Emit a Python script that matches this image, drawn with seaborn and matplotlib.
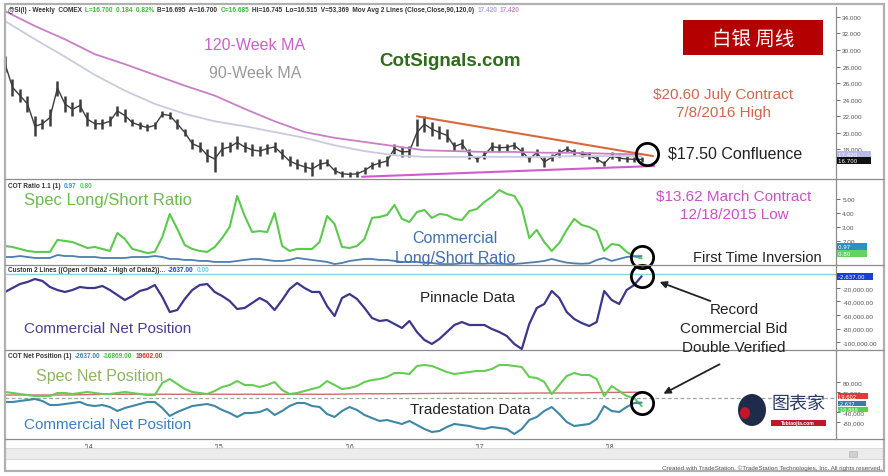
import numpy as np
import pandas as pd
import matplotlib
matplotlib.use("Agg")
import matplotlib.pyplot as plt
import matplotlib.dates as mdates
import matplotlib.ticker as mticker
from matplotlib.patches import Rectangle, FancyArrowPatch, Ellipse
from matplotlib.lines import Line2D
import seaborn as sns

# ---------------- data ----------------
start_date = "2013-05-10"      # first weekly bar shown
bar_step_days = 21             # one sample every 3 weeks

price_high = [29.3, 26.5, 25.3, 24.5, 22.0, 21.7, 22.9, 26.3, 24.5, 23.7,
              24.1, 22.5, 21.7, 21.7, 22.0, 23.3, 22.9, 21.7, 21.3, 21.1,
              21.3, 22.6, 22.5, 21.7, 20.5, 19.3, 18.9, 18.1, 18.4, 18.9,
              18.9, 19.6, 18.9, 18.7, 18.4, 18.7, 18.9, 18.1, 17.2, 16.8,
              16.5, 16.5, 16.8, 16.8, 15.9, 15.4, 15.3, 15.4, 15.9, 16.5,
              16.8, 17.2, 18.7, 18.3, 18.4, 21.7, 22.0, 21.3, 20.8, 20.5,
              18.9, 19.3, 18.1, 17.2, 17.8, 18.9, 18.7, 18.7, 18.9, 18.3,
              17.2, 18.1, 17.1, 17.5, 18.1, 18.4, 18.1, 17.8, 17.7, 17.2,
              16.6, 17.7, 17.3, 17.2, 17.1, 17.1]
price_low = [27.4, 24.5, 23.7, 22.5, 19.6, 20.5, 20.8, 24.5, 22.5, 22.0,
             22.5, 20.8, 20.5, 20.5, 20.8, 22.0, 21.3, 20.8, 20.5, 20.2,
             20.5, 21.9, 21.7, 20.5, 19.6, 18.1, 17.7, 16.5, 15.3, 17.2,
             17.7, 18.1, 17.7, 17.2, 17.2, 17.5, 17.7, 16.8, 16.0, 15.6,
             15.3, 14.8, 15.6, 16.0, 15.0, 14.7, 14.7, 14.7, 15.0, 15.6,
             15.9, 16.0, 17.5, 17.1, 17.1, 18.4, 20.1, 19.6, 19.3, 18.9,
             17.8, 18.1, 16.8, 16.5, 16.8, 17.8, 17.7, 17.8, 18.1, 17.2,
             16.5, 17.1, 15.9, 16.6, 17.1, 17.7, 17.2, 17.1, 16.8, 16.5,
             16.0, 16.8, 16.6, 16.5, 16.5, 16.5]
last_price = 16.700
ma_label_value = 17.420

# moving averages and the red net line, sampled every 12 weeks + last bar
ma120 = [34.7, 32.9, 31.3, 29.5, 28.3, 27.0, 25.7, 24.5, 22.9, 21.4, 20.1, 19.4,
         18.9, 18.4, 17.9, 17.8, 17.7, 17.7, 17.6, 17.6, 17.5, 17.4, 17.4]
ma90 = [33.5, 31.3, 29.2, 27.0, 25.1, 23.5, 22.3, 21.4, 20.8, 20.1, 19.4, 18.5,
        17.8, 17.3, 17.1, 17.1, 17.1, 17.1, 17.1, 17.2, 17.2, 17.2, 17.2]
other_net_k = [28, 28, 28, 30, 31, 31, 31, 31, 31, 31, 31, 31,
               33, 33, 34, 35, 35, 35, 36, 36, 38, 39, 39]
other_net_last = 19602
net_ref_line_k = 18.0

# trendlines
resist_dates = ["2016-07-08", "2018-05-01"]
resist_prices = [22.0, 17.2]
support_dates = ["2016-02-05", "2018-05-04"]
support_prices = [14.7, 16.0]
confluence_price = 17.50

spec_ratio = [1.68, 1.61, 1.47, 1.33, 1.26, 1.26, 1.26, 2.11, 2.04, 1.96,
              1.75, 1.54, 1.61, 1.47, 1.33, 2.60, 2.18, 1.47, 1.33, 1.18,
              1.26, 2.32, 3.95, 2.89, 1.75, 1.47, 1.33, 1.26, 1.61, 2.25,
              3.03, 5.23, 3.81, 2.67, 2.74, 2.67, 4.02, 1.68, 1.33, 1.47,
              1.47, 1.47, 1.96, 3.81, 3.24, 1.61, 1.54, 1.68, 2.18, 3.67,
              3.74, 3.88, 4.59, 3.60, 3.38, 4.09, 4.23, 3.67, 3.95, 3.88,
              3.60, 3.52, 4.16, 4.30, 4.80, 5.16, 5.65, 5.37, 5.23, 4.38,
              2.25, 2.82, 1.96, 1.33, 1.89, 2.82, 3.60, 3.17, 3.03, 2.74,
              1.33, 1.82, 1.75, 1.26, 0.95, 0.80]
comm_ratio = [0.90, 0.90, 0.97, 0.90, 0.83, 0.83, 0.83, 1.04, 0.97, 0.97,
              0.90, 0.90, 0.90, 0.83, 0.83, 0.83, 0.83, 0.90, 0.90, 0.90,
              0.97, 0.90, 0.76, 0.76, 0.69, 0.69, 0.62, 0.62, 0.55, 0.55,
              0.55, 0.62, 0.69, 0.76, 0.76, 0.69, 0.62, 0.62, 0.69, 0.83,
              0.76, 0.69, 0.62, 0.55, 0.40, 0.48, 0.62, 0.69, 0.76, 0.76,
              0.69, 0.69, 0.62, 0.55, 0.55, 0.55, 0.48, 0.48, 0.40, 0.40,
              0.40, 0.45, 0.45, 0.42, 0.42, 0.45, 0.42, 0.40, 0.40, 0.45,
              0.50, 0.55, 0.62, 0.76, 0.62, 0.50, 0.45, 0.42, 0.45, 0.69,
              0.83, 0.62, 0.76, 0.90, 0.95, 0.97]

comm_net_pinnacle_k = [-25.9, -20.0, -14.1, -11.1, -6.7, -9.6, -18.5, -23.0, -25.9, -23.0,
                       -18.5, -20.0, -20.0, -17.0, -23.0, -30.4, -37.8, -31.9, -24.4, -21.5,
                       -15.6, -33.3, -55.6, -52.6, -36.3, -23.0, -15.6, -14.1, -25.9, -31.9,
                       -39.3, -51.1, -49.6, -42.2, -34.8, -40.7, -52.6, -37.8, -21.5, -12.6,
                       -20.0, -25.9, -25.9, -46.7, -61.5, -34.8, -28.9, -36.3, -49.6, -64.4,
                       -68.9, -67.4, -73.3, -79.2, -68.9, -85.2, -97.0, -102.9, -95.5, -85.2,
                       -74.8, -70.4, -74.8, -74.8, -74.8, -80.7, -85.2, -91.1, -102.9, -110.4,
                       -73.3, -49.6, -43.7, -24.4, -34.8, -55.6, -65.9, -71.9, -76.3, -70.4,
                       -24.4, -37.8, -43.7, -23.0, -15.6, -2.637]

spec_net_k = [40, 36, 32, 28, 24, 24, 24, 36, 36, 32,
              36, 40, 36, 32, 32, 36, 40, 36, 32, 28,
              28, 76, 92, 72, 52, 40, 36, 32, 44, 60,
              68, 84, 68, 68, 60, 68, 80, 48, 32, 36,
              44, 52, 60, 84, 68, 52, 56, 64, 80, 88,
              92, 100, 116, 116, 112, 144, 148, 144, 132, 120,
              112, 116, 120, 124, 124, 132, 148, 148, 144, 140,
              100, 96, 80, 32, 68, 104, 116, 108, 108, 92,
              24, 64, 44, 24, 16, -16.869]
comm_net_ts_k = [0, 0, 4, 8, 12, 4, -12, -12, -8, -4,
                 0, -12, -16, -12, -20, -36, -24, -16, -8, 0,
                 0, -24, -56, -40, -28, -16, -12, -8, -16, -32,
                 -44, -60, -44, -44, -40, -28, -52, -36, -16, -4,
                 -4, -16, -20, -48, -60, -36, -20, -32, -52, -64,
                 -76, -72, -80, -88, -76, -92, -108, -120, -116, -100,
                 -88, -92, -96, -104, -108, -100, -104, -108, -128, -108,
                 -72, -60, -36, -20, -48, -80, -96, -92, -88, -68,
                 -16, -36, -40, -20, -4, -2.637]

price_ticks = [18, 20, 22, 24, 26, 28, 30, 32, 34]
ratio_ticks = [2, 3, 4, 5]
custom_ticks_k = [-20, -40, -60, -80, -100]
net_ticks_k = [-80, -40, 40, 80]
year_ticks = ["2014-01-01", "2015-01-01", "2016-01-01", "2017-01-01", "2018-01-01"]

# ---------------- figure ----------------
sns.set_style("white")
plt.rcParams['font.family'] = ['Liberation Sans', 'Noto Sans CJK SC', 'DejaVu Sans']

W, H = 888, 477
fig = plt.figure(figsize=(W / 100, H / 100), dpi=100)
fig.patch.set_facecolor("white")


def rect(x0, y0, x1, y1):
    return [x0 / W, 1 - y1 / H, (x1 - x0) / W, (y1 - y0) / H]


def fx(x):
    return x / W


def fy(y):
    return 1 - y / H


ax_p = fig.add_axes(rect(5, 8, 836, 180))
ax_r = fig.add_axes(rect(5, 180, 836, 266), sharex=ax_p)
ax_c = fig.add_axes(rect(5, 266, 836, 351), sharex=ax_p)
ax_n = fig.add_axes(rect(5, 351, 836, 440), sharex=ax_p)
axes = [ax_p, ax_r, ax_c, ax_n]

n = len(price_high)
dates = pd.date_range(start_date, periods=n, freq=f"{bar_step_days}D")
xnum = mdates.date2num(dates.to_pydatetime())
coarse_idx = np.r_[np.arange(0, n, 4), n - 1]
xc = xnum[coarse_idx]

# price panel
mid = (np.array(price_high) + np.array(price_low)) / 2
ax_p.vlines(xnum, price_low, price_high, color="#3c3c3c", lw=1.8)
sns.lineplot(x=xnum, y=mid, ax=ax_p, color="#3c3c3c", lw=1.0)
sns.lineplot(x=xc, y=ma120, ax=ax_p, color="#c97fc6", lw=1.3)
sns.lineplot(x=xc, y=ma90, ax=ax_p, color="#c9c9df", lw=1.3)
ax_p.plot(mdates.date2num(pd.to_datetime(resist_dates).to_pydatetime()), resist_prices,
          color="#d9683f", lw=1.5)
ax_p.plot(mdates.date2num(pd.to_datetime(support_dates).to_pydatetime()), support_prices,
          color="#d25ad0", lw=1.5)
ax_p.plot(xnum[-1] + 16, confluence_price, marker="o", ms=16, mfc="none", mec="black",
          mew=2, clip_on=False)
ax_p.set_ylim(14.43, 35.2)
ax_p.set_yticks(price_ticks)
ax_p.yaxis.set_major_formatter(mticker.FormatStrFormatter("%.3f"))

# ratio panel
sns.lineplot(x=xnum, y=spec_ratio, ax=ax_r, color="#5cc94e", lw=1.5)
sns.lineplot(x=xnum, y=comm_ratio, ax=ax_r, color="#4d7fae", lw=1.3)
ax_r.plot(xnum[-1], (spec_ratio[-1] + comm_ratio[-1]) / 2, marker="o", ms=16, mfc="none",
          mec="black", mew=2, clip_on=False)
ax_r.set_ylim(0.333, 6.43)
ax_r.set_yticks(ratio_ticks)
ax_r.yaxis.set_major_formatter(mticker.FormatStrFormatter("%.2f"))

# custom (pinnacle) panel
ax_c.axhline(0, color="#86d6e4", lw=1.0)
sns.lineplot(x=xnum, y=comm_net_pinnacle_k, ax=ax_c, color="#3d378c", lw=1.6)
ax_c.plot(xnum[-1], comm_net_pinnacle_k[-1], marker="o", ms=16, mfc="none", mec="black",
          mew=2, clip_on=False)
ax_c.set_ylim(-111.85, 14.07)
ax_c.set_yticks(custom_ticks_k)
ax_c.yaxis.set_major_formatter(mticker.FuncFormatter(lambda v, p: f"{v * 1000:,.2f}"))

# net position panel
ax_n.axhline(net_ref_line_k, color="#9aa8a0", lw=0.9, ls=(0, (3, 2)))
sns.lineplot(x=xc, y=other_net_k, ax=ax_n, color="#d46a6a", lw=1.0)
sns.lineplot(x=xnum, y=spec_net_k, ax=ax_n, color="#66cc55", lw=1.5)
sns.lineplot(x=xnum, y=comm_net_ts_k, ax=ax_n, color="#3f87a6", lw=1.5)
ax_n.plot(xnum[-1], comm_net_ts_k[-1], marker="o", ms=16, mfc="none", mec="black",
          mew=2, clip_on=False)
ax_n.set_ylim(-148, 208)
ax_n.set_yticks(net_ticks_k)
ax_n.yaxis.set_major_formatter(mticker.FuncFormatter(lambda v, p: f"{v * 1000:,.0f}"))

x_left = mdates.date2num(pd.Timestamp(start_date).to_pydatetime())
ax_p.set_xlim(x_left, x_left + 2330)

for ax in axes:
    ax.set_xlabel("")
    ax.set_ylabel("")
    ax.set_facecolor("none")
    ax.yaxis.tick_right()
    ax.tick_params(axis="y", direction="out", length=3, width=0.6, labelsize=4.6,
                   colors="#555", pad=1.5)
    for s in ("left", "top", "bottom"):
        ax.spines[s].set_visible(False)
    ax.spines["right"].set_color("#8c8c8c")
    ax.spines["right"].set_linewidth(0.9)
    if ax is not ax_n:
        ax.tick_params(axis="x", bottom=False, labelbottom=False)
    ax.grid(False)
    leg = ax.get_legend()
    if leg:
        leg.remove()

major_x = mdates.date2num(pd.to_datetime(year_ticks).to_pydatetime())
minor_x = [d for d in pd.date_range("2013-07-01", "2018-04-01", freq="QS") if d.month != 1]
ax_n.xaxis.set_major_locator(mticker.FixedLocator(major_x))
ax_n.xaxis.set_major_formatter(mdates.DateFormatter("'%y"))
ax_n.xaxis.set_minor_locator(mticker.FixedLocator(mdates.date2num([d.to_pydatetime() for d in minor_x])))
ax_n.tick_params(axis="x", which="major", direction="in", length=4, width=0.7,
                 labelsize=4.8, colors="#444", pad=3)
ax_n.tick_params(axis="x", which="minor", direction="in", length=2.5, width=0.6, colors="#666")

# separators and frame
for yy in (180, 266, 351, 440):
    fig.add_artist(Line2D([fx(5), fx(884)], [fy(yy), fy(yy)], color="#8c8c8c", lw=0.9))
fig.add_artist(Rectangle((fx(5), fy(460)), fx(879), 11 / H, transform=fig.transFigure,
                         fc="#ececec", ec="#d5d5d5", lw=0.6))
fig.add_artist(Rectangle((fx(849), fy(458)), fx(8), 6 / H, transform=fig.transFigure,
                         fc="#cfcfcf", ec="#bbbbbb", lw=0.5))
fig.add_artist(Rectangle((fx(5), fy(472)), fx(879), 467 / H, transform=fig.transFigure,
                         fill=False, ec="#b0b0b0", lw=1.6))


# value boxes on the right axis
def vbox(ax, val, txt, fc, tc="white", dy=0, size=4.0, pad=0.18):
    ax.annotate(txt.ljust(13), xy=(1, val), xycoords=ax.get_yaxis_transform(),
                xytext=(1.5, dy), textcoords="offset points", fontsize=size, color=tc,
                va="center", ha="left", annotation_clip=False, family="DejaVu Sans",
                bbox=dict(boxstyle=f"square,pad={pad}", fc=fc, ec="none"))


vbox(ax_p, ma_label_value, f"{ma_label_value:.3f}", "#b9b9ea")
vbox(ax_p, last_price, f"{last_price:.3f}", "#111111")
vbox(ax_r, comm_ratio[-1], f"{comm_ratio[-1]:.2f}", "#2b90c6", dy=6.5)
vbox(ax_r, spec_ratio[-1], f"{spec_ratio[-1]:.2f}", "#62d45e", dy=3.4)
vbox(ax_c, comm_net_pinnacle_k[-1], f"{comm_net_pinnacle_k[-1] * 1000:,.2f}", "#1b3fcf")
vbox(ax_n, other_net_last / 1000, f"{other_net_last:,.0f}", "#e03a3a", dy=0.8, size=3.7, pad=0.05)
vbox(ax_n, comm_net_ts_k[-1], f"{comm_net_ts_k[-1] * 1000:,.0f}", "#2f7fb0", dy=-0.6, size=3.7, pad=0.05)
vbox(ax_n, spec_net_k[-1], f"{spec_net_k[-1] * 1000:,.0f}", "#52d052", dy=-2.2, size=3.7, pad=0.05)

renderer = fig.canvas.get_renderer()


def seg_text(x_px, y_px, parts, size=4.7):
    x = x_px
    for s, c in parts:
        t = fig.text(fx(x), fy(y_px), s, color=c, fontsize=size, va="center", ha="left",
                     fontweight="bold")
        bb = t.get_window_extent(renderer)
        x = bb.x1 + 3


seg_text(8, 11, [("@SI(I) - Weekly  COMEX", "#333"), ("L=16.700  0.184  0.82%", "#3cb93c"),
                 ("B=16.695  A=16.700", "#333"), ("O=16.685", "#3cb93c"),
                 ("Hi=16.745  Lo=16.515  V=53,369  Mov Avg 2 Lines (Close,Close,90,120,0)", "#333"),
                 ("17.420", "#a9a9e0"), ("17.420", "#d08ad0")])
seg_text(8, 186, [("COT Ratio 1.1 (1)", "#333"), ("0.97", "#3a8fd0"), ("0.80", "#55c855")])
seg_text(8, 271, [("Custom 2 Lines ((Open of Data2 - High of Data2))...", "#333"),
                  ("-2637.00", "#2244cc"), ("0.00", "#66ccdd")])
seg_text(8, 357, [("COT Net Position (1)", "#333"), ("-2637.00", "#3a86b0"),
                  ("-16869.00", "#44c044"), ("19602.00", "#d03030")])


def label(x, y, s, color, size=11.5, ha="center", **kw):
    fig.text(fx(x), fy(y), s, color=color, fontsize=size, ha=ha, va="center", **kw)


label(255, 45, "120-Week MA", "#cc5fcc")
label(255, 74, "90-Week MA", "#999999")
label(450, 62, "CotSignals.com", "#2f6b1a", size=13.5, fontweight="bold")
fig.add_artist(Rectangle((fx(683), fy(56)), fx(140), 35 / H, transform=fig.transFigure,
                         fc="#b40000", ec="none"))
fig.text(fx(753), fy(39), "白银 周线", color="white", fontsize=14, ha="center", va="center",
         family=["Noto Sans CJK SC", "DejaVu Sans"])
label(723, 95, "$20.60 July Contract", "#d0674c", size=11)
label(723, 113, "7/8/2016 High", "#d0674c", size=11)
label(668, 154, "$17.50 Confluence", "#222222", size=11.5, ha="left")
label(734, 197, "$13.62 March Contract", "#cc4fcc", size=11)
label(734, 215, "12/18/2015 Low", "#cc4fcc", size=11)
label(108, 201, "Spec Long/Short Ratio", "#6dbb4e", size=12)
label(455, 239, "Commercial", "#3f6fb0", size=11.5)
label(455, 258, "Long/Short Ratio", "#3f6fb0", size=11.5)
label(693, 258, "First Time Inversion", "#222222", size=10.5, ha="left")
label(468, 298, "Pinnacle Data", "#222222", size=11)
label(108, 329, "Commercial Net Position", "#4a3f8f", size=11)
label(734, 310, "Record", "#222222", size=11)
label(734, 329, "Commercial Bid", "#222222", size=11)
label(734, 348, "Double Verified", "#222222", size=11)
label(100, 377, "Spec Net Position", "#8db55e", size=11.5)
label(470, 410, "Tradestation Data", "#222222", size=11)
label(108, 425, "Commercial Net Position", "#3f7fc0", size=11)

for (x0, y0, x1, y1) in [(713, 303, 657, 282), (722, 364, 661, 396)]:
    fig.add_artist(FancyArrowPatch((fx(x0), fy(y0)), (fx(x1), fy(y1)),
                                   transform=fig.transFigure, arrowstyle="-|>",
                                   mutation_scale=10, lw=1.3, color="#222222"))

# watermark logo
fig.add_artist(Ellipse((fx(752), fy(411)), 28 / W, 32 / H, transform=fig.transFigure,
                       fc="#1f2b4a", ec="none"))
fig.add_artist(Ellipse((fx(745), fy(414)), 10 / W, 12 / H, transform=fig.transFigure,
                       fc="#c0182a", ec="none"))
fig.text(fx(798), fy(405), "图表家", color="#2b3a67", fontsize=13, ha="center", va="center",
         family=["Noto Sans CJK SC", "DejaVu Sans"])
fig.add_artist(Rectangle((fx(771), fy(427)), fx(55), 6 / H, transform=fig.transFigure,
                         fc="#c0182a", ec="none"))
fig.text(fx(798), fy(424), "Tubiaojia.com", color="white", fontsize=3.6, ha="center",
         va="center", fontweight="bold")

fig.text(fx(882), fy(468), "Created with TradeStation. \u00a9TradeStation Technologies, Inc. All rights reserved.",
         color="#555", fontsize=4.5, ha="right", va="center")

fig.savefig("out.png", dpi=100, facecolor="white")
